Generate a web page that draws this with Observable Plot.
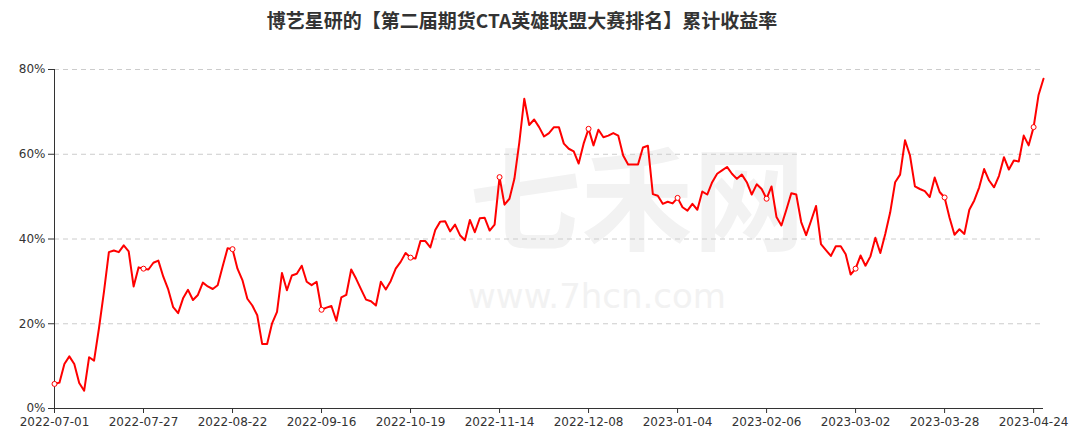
<!DOCTYPE html>
<html>
<head>
<meta charset="utf-8">
<script src="https://cdn.jsdelivr.net/npm/d3@7"></script>
<script src="https://cdn.jsdelivr.net/npm/@observablehq/plot@0.6"></script>
<style>
  html, body { margin: 0; padding: 0; background: #fff; }
  #title { height: 40px; line-height: 40px; font-family: "Noto Sans CJK SC", sans-serif; font-weight: bold; font-size: 19px; color: #333; text-align: center; padding-right: 34px; white-space: nowrap; }
  #chart svg { display: block; }
</style>
</head>
<body>
<div id="title">博艺星研的【第二届期货CTA英雄联盟大赛排名】累计收益率</div>
<div id="chart"></div>
<script>
const titleText = "博艺星研的【第二届期货CTA英雄联盟大赛排名】累计收益率";
const tickLabels = ["2022-07-01","2022-07-27","2022-08-22","2022-09-16","2022-10-19","2022-11-14","2022-12-08","2023-01-04","2023-02-06","2023-03-02","2023-03-28","2023-04-24"];
const tickStep = 18;
const yTicks = [0, 20, 40, 60, 80];
// cumulative return (%) per trading day, 2022-07-01 .. 2023-04-26
const returnsPct = [
  5.8, 6.1, 10.5, 12.3, 10.5, 6.0, 4.2, 12.1, 11.3, 19.0,
  27.5, 36.9, 37.3, 36.9, 38.5, 37.1, 28.8, 33.3, 33.0, 32.8,
  34.4, 34.9, 31.1, 28.1, 23.9, 22.5, 26.0, 28.0, 25.6, 26.8,
  29.7, 28.8, 28.2, 29.1, 33.5, 37.8, 37.6, 33.0, 30.3, 25.9,
  24.3, 22.0, 15.2, 15.2, 20.1, 22.8, 32.0, 27.9, 31.4, 31.8,
  33.7, 29.9, 29.1, 29.9, 23.3, 23.8, 24.2, 20.7, 26.2, 26.8,
  32.8, 30.6, 28.1, 25.7, 25.3, 24.3, 29.9, 28.1, 30.1, 33.0,
  34.6, 36.7, 35.6, 35.4, 39.5, 39.5, 38.0, 42.1, 44.1, 44.2,
  41.8, 43.4, 40.9, 39.7, 44.5, 41.6, 44.9, 45.0, 42.0, 43.4,
  54.6, 48.1, 49.5, 54.2, 62.8, 73.1, 66.9, 68.2, 66.4, 64.2,
  65.0, 66.4, 66.4, 62.5, 61.3, 60.7, 57.8, 62.5, 66.0, 62.1,
  65.8, 64.0, 64.4, 65.0, 64.4, 59.7, 57.6, 57.6, 57.6, 61.6,
  62.0, 50.6, 50.2, 48.3, 48.8, 48.4, 49.7, 47.5, 46.7, 48.3,
  46.9, 51.2, 50.5, 53.4, 55.4, 56.2, 57.0, 55.4, 54.2, 55.2,
  53.4, 50.5, 52.9, 51.8, 49.5, 52.4, 45.2, 43.2, 46.9, 50.8,
  50.5, 44.0, 40.9, 44.3, 47.8, 38.8, 37.4, 36.0, 38.3, 38.3,
  36.4, 31.6, 33.0, 36.1, 33.7, 35.9, 40.3, 36.7, 41.2, 46.3,
  53.4, 55.2, 63.3, 59.7, 52.4, 51.8, 51.3, 49.9, 54.5, 51.1,
  49.8, 45.0, 41.0, 42.3, 41.2, 46.9, 49.1, 52.2, 56.5, 53.8,
  52.2, 54.9, 59.3, 56.4, 58.5, 58.3, 64.4, 62.1, 66.4, 74.0,
  77.8
];
const watermarkMain = "七禾网";
const watermarkUrl = "www.7hcn.com";

const data = returnsPct.map((v, i) => ({i, v}));
const tickIdx = tickLabels.map((_, k) => k * tickStep);
const markerData = data.filter(d => d.i % tickStep === 0);

const chart = Plot.plot({
  width: 1078,
  height: 398,
  marginTop: 29,
  marginBottom: 30,
  marginLeft: 54,
  marginRight: 35,
  style: {fontFamily: "DejaVu Sans, sans-serif", fontSize: "12px", color: "#333", background: "#fff", overflow: "visible"},
  x: {domain: [0, returnsPct.length - 1], axis: null},
  y: {domain: [0, 80], axis: null},
  marks: [
    Plot.text([watermarkMain], {frameAnchor: "middle", dx: 88, dy: -33, text: d => d, fontSize: 112, fontWeight: "bold", fill: "#f2f2f2", fontFamily: "Noto Sans CJK SC", letterSpacing: 8}),
    Plot.text([watermarkUrl], {frameAnchor: "middle", dx: 48, dy: 58, text: d => d, fontSize: 34, fill: "#f2f2f2", fontFamily: "DejaVu Sans", letterSpacing: 1}),
    Plot.gridY(yTicks.filter(d => d > 0), {stroke: "#cccccc", strokeOpacity: 1, strokeDasharray: "5,4"}),
    Plot.ruleX([0], {stroke: "#333"}),
    Plot.ruleY([0], {stroke: "#333"}),
    Plot.axisY({ticks: yTicks, tickFormat: d => d + "%", label: null, tickSize: 6, tickPadding: 3, stroke: "#333", fill: "#333", fontSize: 12}),
    Plot.axisX({ticks: tickIdx, tickFormat: d => tickLabels[Math.round(d / tickStep)], label: null, tickSize: 5, tickPadding: 4, stroke: "#333", fill: "#333", fontSize: 12, letterSpacing: 0.5}),
    Plot.line(data, {x: "i", y: "v", stroke: "#ff0000", strokeWidth: 2, strokeLinejoin: "round"}),
    Plot.dot(markerData, {x: "i", y: "v", r: 2.5, fill: "white", stroke: "#ff0000", strokeWidth: 1})
  ]
});
document.getElementById("chart").appendChild(chart);
</script>
</body>
</html>
